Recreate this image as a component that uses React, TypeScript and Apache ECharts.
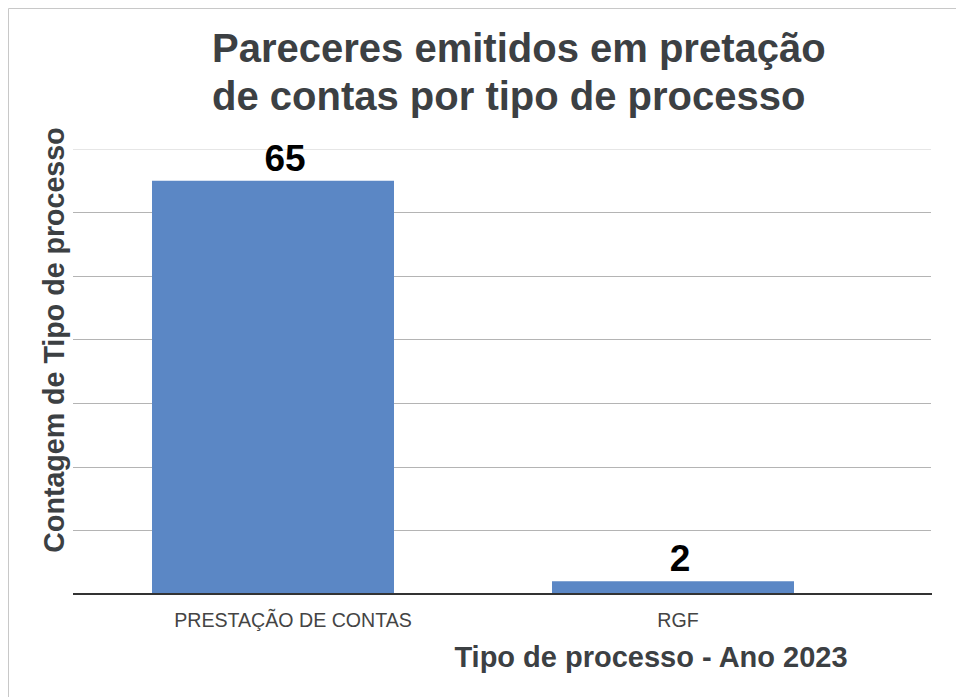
import React, { useEffect, useRef } from "react";
import * as echarts from "echarts";

const categories = ["PRESTAÇÃO DE CONTAS", "RGF"];
const values = [65, 2];
const yTicks = [0, 10, 20, 30, 40, 50, 60, 70];
const titleLines = ["Pareceres emitidos em pretação", "de contas por tipo de processo"];
const yAxisTitle = "Contagem de Tipo de processo";
const xAxisTitle = "Tipo de processo - Ano 2023";

const FONT = "'Liberation Sans', Arial, sans-serif";

export default function App() {
  const ref = useRef<HTMLDivElement>(null);
  useEffect(() => {
    if (!ref.current) return;
    const chart = echarts.init(ref.current, null, { renderer: "svg" });
    const gridColors = ["#333333", "#b4b4b4", "#b4b4b4", "#b4b4b4", "#b4b4b4", "#b4b4b4", "#b4b4b4", "#e6e6e6"];
    chart.setOption({
      animation: false,
      backgroundColor: "#ffffff",
      textStyle: { fontFamily: FONT },
      title: {
        text: titleLines.join("\n"),
        left: 207,
        top: 19,
        textStyle: { fontFamily: FONT, fontSize: 40, fontWeight: "bold", color: "#3c4043", lineHeight: 48 },
      },
      grid: [
        { left: 73, right: 25, top: 149, bottom: 103 },
        { left: 73, width: 800, top: 149, bottom: 103 },
      ],
      xAxis: [
        {
          type: "value",
          gridIndex: 0,
          min: 0,
          max: 1,
          show: true,
          axisLine: { show: false },
          axisTick: { show: false },
          axisLabel: { show: false },
          splitLine: { show: false },
        },
        {
          type: "category",
          gridIndex: 1,
          data: categories,
          axisLine: { show: false },
          axisTick: { show: false },
          axisLabel: {
            margin: 16,
            formatter: (v: string) => `{c${categories.indexOf(v)}|${v}}`,
            rich: {
              c0: { fontFamily: FONT, fontSize: 19.6, color: "#444444", padding: [0, 0, 0, 40] },
              c1: { fontFamily: FONT, fontSize: 19.6, color: "#444444", padding: [0, 0, 0, 10] },
            },
          },
        },
      ],
      yAxis: [
        {
          type: "value",
          gridIndex: 0,
          min: yTicks[0],
          max: yTicks[yTicks.length - 1],
          interval: 10,
          axisLine: { show: false },
          axisTick: { show: false },
          axisLabel: { show: false },
          splitLine: { show: true, lineStyle: { color: gridColors, width: 1 } },
        },
        {
          type: "value",
          gridIndex: 1,
          min: yTicks[0],
          max: yTicks[yTicks.length - 1],
          interval: 10,
          show: false,
          splitLine: { show: false },
        },
      ],
      series: [
        {
          type: "bar",
          xAxisIndex: 1,
          yAxisIndex: 1,
          barWidth: 242,
          itemStyle: { color: "#5b87c5" },
          label: {
            show: true,
            position: "top",
            distance: 4,
            fontFamily: FONT,
            fontSize: 37,
            fontWeight: "bold",
            color: "#000000",
          },
          data: values.map((v, i) => ({
            value: v,
            label: { offset: [i === 0 ? 12 : 7, 0] },
          })),
          z: 2,
        },
      ],
      graphic: [
        {
          type: "rect",
          shape: { x: 8.5, y: 8.5, width: 1200, height: 1200 },
          style: { fill: "none", stroke: "#c8c8c8", lineWidth: 1 },
          silent: true,
          z: 0,
        },
        {
          type: "line",
          shape: { x1: 73, y1: 594, x2: 932, y2: 594 },
          style: { stroke: "#333333", lineWidth: 2 },
          z: 10,
        },
        {
          type: "text",
          x: 54,
          y: 340,
          rotation: Math.PI / 2,
          style: {
            text: yAxisTitle,
            fontFamily: FONT,
            fontSize: 28.6,
            fontWeight: "bold",
            fill: "#3c4043",
            align: "center",
            verticalAlign: "middle",
          },
        },
        {
          type: "text",
          x: 651,
          y: 657,
          style: {
            text: xAxisTitle,
            fontFamily: FONT,
            fontSize: 29,
            fontWeight: "bold",
            fill: "#3c4043",
            align: "center",
            verticalAlign: "middle",
          },
        },
      ],
    });
    return () => chart.dispose();
  }, []);
  return (
    <div
      ref={ref}
      style={{ position: "absolute", left: 0, top: 0, width: 956, height: 697 }}
    />
  );
}
